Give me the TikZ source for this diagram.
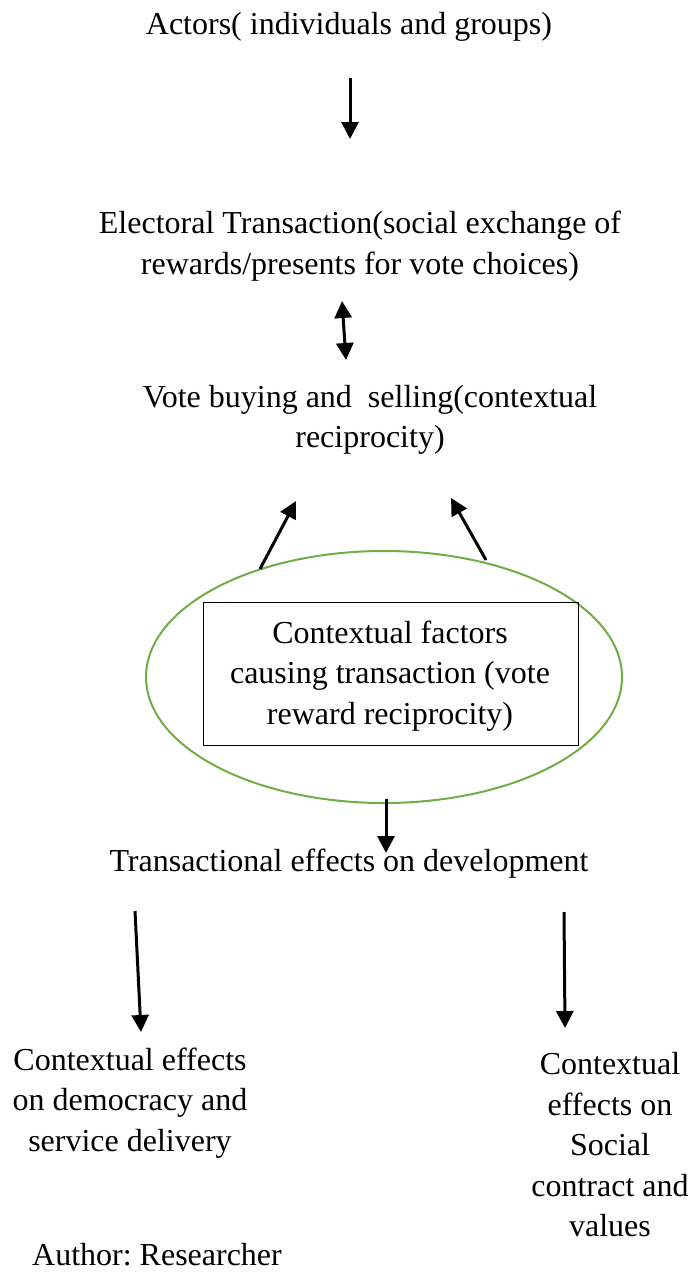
\documentclass[tikz,border=0pt]{standalone}
\usepackage{fontspec}
\setmainfont{Liberation Serif}
\usetikzlibrary{arrows.meta}
\definecolor{ringgreen}{RGB}{112,173,71}
\frenchspacing
\begin{document}
\begin{tikzpicture}[x=1pt,y=-1pt,
  txt/.style={align=center,inner sep=0pt,font=\fontsize{32}{40.5}\selectfont},
  credit/.style={inner sep=0pt,font=\fontsize{32}{40.5}\selectfont},
  arr/.style={line width=3pt,-{Triangle[width=17pt,length=17pt]}},
  darr/.style={line width=3pt,{Triangle[width=17pt,length=17pt]}-{Triangle[width=17pt,length=17pt]}}]
\useasboundingbox (0,0) rectangle (690,1272);

% ring and box around the contextual factors
\draw[ringgreen,line width=2pt] (384,677) ellipse [x radius=238,y radius=126];
\node[draw,line width=1pt,minimum width=375pt,minimum height=143pt] (box) at (390.5,673.5) {};

% texts
\node[txt] (actors) at (349,27) {Actors( individuals and groups)};
\node[txt] (elect) at (360,246) {Electoral Transaction(social exchange of\\rewards/presents for vote choices)};
\node[txt] (vote) at (370,420) {Vote buying and\ \ selling(contextual\\reciprocity)};
\node[txt] (factors) at (390,676) {Contextual factors\\causing transaction (vote\\reward reciprocity)};
\node[txt] (trans) at (349,864) {Transactional effects on development};
\node[txt] (demo) at (130,1103) {Contextual effects\\on democracy and\\service delivery};
\node[txt] (social) at (610,1145) {Contextual\\effects on\\Social\\contract and\\values};
\node[credit,anchor=base] (author) at (157,1265) {Author: Researcher};

% arrow end points
\coordinate (a1s) at (350,78);  \coordinate (a1e) at (350,139);
\coordinate (d1s) at (342,301); \coordinate (d1e) at (346,360);
\coordinate (l1s) at (260,569); \coordinate (l1e) at (296,501);
\coordinate (r1s) at (486,560); \coordinate (r1e) at (451,498);
\coordinate (b1s) at (386,799); \coordinate (b1e) at (386,853);
\coordinate (l2s) at (135,911); \coordinate (l2e) at (141,1032);
\coordinate (r2s) at (564,912); \coordinate (r2e) at (565,1028);

% connectors
\draw[arr] (a1s) -- (a1e);
\draw[darr] (d1s) -- (d1e);
\draw[arr] (l1s) -- (l1e);
\draw[arr] (r1s) -- (r1e);
\draw[arr] (b1s) -- (b1e);
\draw[arr] (l2s) -- (l2e);
\draw[arr] (r2s) -- (r2e);
\end{tikzpicture}
\end{document}
